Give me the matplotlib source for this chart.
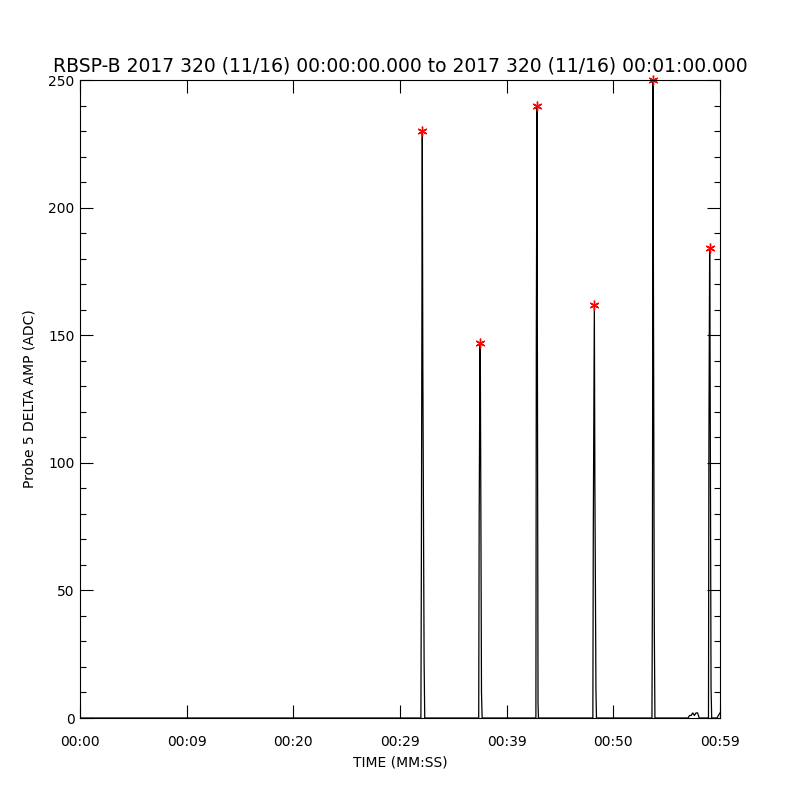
import numpy as np
import matplotlib
matplotlib.use("Agg")
import matplotlib.pyplot as plt

# ==========================================
# data (seconds, ADC)
# ==========================================
TITLE = "RBSP-B 2017 320 (11/16) 00:00:00.000 to 2017 320 (11/16) 00:01:00.000"

time_s = [0.0,
          31.96, 32.00, 32.09, 32.14, 32.26, 32.32,
          37.38, 37.42, 37.50, 37.53, 37.64, 37.70,
          42.74, 42.78, 42.84, 42.87, 42.94, 42.98,
          48.08, 48.12, 48.22, 48.27, 48.37, 48.42,
          53.62, 53.66, 53.72, 53.76, 53.84, 53.90,
          57.00, 57.15, 57.30, 57.45, 57.60, 57.75, 57.90, 58.05,
          58.92, 58.96, 59.03, 59.06, 59.16, 59.22,
          59.70, 59.85, 60.0]
amp_adc = [0,
           0, 56, 230, 138, 22, 0,
           0, 76, 147, 143, 10, 0,
           0, 148, 240, 169, 6, 0,
           0, 72, 162, 92, 11, 0,
           0, 45, 250, 169, 36, 0,
           0, 1, 1, 2, 1, 2, 2, 0,
           0, 108, 184, 158, 12, 0,
           0, 1, 2]

peak_t = [32.09, 37.50, 42.84, 48.22, 53.72, 59.03]
peak_v = [230, 147, 240, 162, 250, 184]

xtick_pos = [0, 10, 20, 30, 40, 50, 60]
xtick_lab = ["00:00", "00:09", "00:20", "00:29", "00:39", "00:50", "00:59"]

# ==========================================
# plot
# ==========================================
fig = plt.figure(figsize=(8, 8), dpi=100)
ax = fig.add_axes([0.1, 0.1025, 0.8, 0.7975])

ax.plot(time_s, amp_adc, color="black", linewidth=0.9)
ax.plot(peak_t, peak_v, linestyle="none", marker=(6, 2, 0), markersize=7,
        markeredgecolor="red", markeredgewidth=1.0, color="red", clip_on=False)

ax.set_xlim(0, 60)
ax.set_ylim(0, 250)
ax.set_xticks(xtick_pos)
ax.set_xticklabels(xtick_lab)
ax.set_yticks([0, 50, 100, 150, 200, 250])
ax.set_yticks(np.arange(0, 251, 10), minor=True)

ax.tick_params(axis="both", which="both", direction="in", top=True, right=True,
               labelsize=10, width=0.8, color="black")
ax.tick_params(axis="both", which="major", length=9.5)
ax.tick_params(axis="x", which="major", pad=12)
ax.tick_params(axis="y", which="major", pad=4)
ax.tick_params(axis="y", which="minor", length=4.5)
ax.tick_params(axis="x", which="minor", length=0)
for sp in ax.spines.values():
    sp.set_linewidth(0.8)

ax.set_title(TITLE, fontsize=13.5, pad=6)
ax.set_xlabel("TIME (MM:SS)", fontsize=10, labelpad=5)
ax.set_ylabel("Probe 5 DELTA AMP (ADC)", fontsize=10, labelpad=8)

fig.savefig("out.png", dpi=100, facecolor="white")
